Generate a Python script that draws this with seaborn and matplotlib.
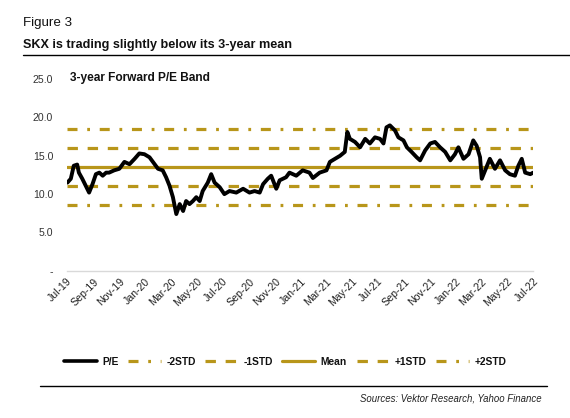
import matplotlib
matplotlib.use("Agg")
import matplotlib.pyplot as plt
import matplotlib.dates as mdates
from matplotlib.lines import Line2D
import pandas as pd
import seaborn as sns

dates = ["2019-07-02", "2019-07-10", "2019-07-17", "2019-07-25", "2019-07-29", "2019-08-06",
         "2019-08-14", "2019-08-22", "2019-08-30", "2019-09-07", "2019-09-15", "2019-09-23",
         "2019-10-01", "2019-10-08", "2019-10-20", "2019-11-01", "2019-11-13", "2019-11-25",
         "2019-12-07", "2019-12-18", "2019-12-30", "2020-01-11", "2020-01-23", "2020-01-31",
         "2020-02-11", "2020-02-19", "2020-02-27", "2020-03-06", "2020-03-14", "2020-03-22",
         "2020-03-30", "2020-04-06", "2020-04-14", "2020-04-22", "2020-04-30", "2020-05-08",
         "2020-05-15", "2020-05-27", "2020-06-04", "2020-06-12", "2020-06-24", "2020-07-05",
         "2020-07-17", "2020-08-02", "2020-08-18", "2020-09-02", "2020-09-14", "2020-09-26",
         "2020-10-04", "2020-10-15", "2020-10-23", "2020-11-04", "2020-11-12", "2020-11-27",
         "2020-12-05", "2020-12-21", "2021-01-05", "2021-01-21", "2021-01-29", "2021-02-14",
         "2021-03-02", "2021-03-10", "2021-03-22", "2021-04-03", "2021-04-14", "2021-04-20",
         "2021-04-26", "2021-05-08", "2021-05-20", "2021-06-01", "2021-06-12", "2021-06-24",
         "2021-07-06", "2021-07-14", "2021-07-21", "2021-07-29", "2021-08-10", "2021-08-18",
         "2021-08-30", "2021-09-07", "2021-09-18", "2021-09-30", "2021-10-08", "2021-10-20",
         "2021-11-01", "2021-11-12", "2021-11-24", "2021-12-06", "2021-12-18", "2021-12-29",
         "2022-01-06", "2022-01-18", "2022-01-30", "2022-02-10", "2022-02-18", "2022-02-26",
         "2022-03-02", "2022-03-10", "2022-03-21", "2022-04-02", "2022-04-14", "2022-04-26",
         "2022-05-07", "2022-05-19", "2022-05-27", "2022-06-04", "2022-06-12", "2022-06-24",
         "2022-07-01"]
pe = [11.5, 12.0, 13.7, 13.85, 12.8, 12.0,
      11.1, 10.2, 11.3, 12.6, 12.8, 12.4,
      12.8, 12.8, 13.1, 13.3, 14.2, 13.9,
      14.6, 15.3, 15.2, 14.8, 13.9, 13.3,
      13.1, 12.2, 11.1, 9.6, 7.4, 8.7,
      7.8, 9.1, 8.7, 9.1, 9.6, 9.1,
      10.4, 11.5, 12.6, 11.5, 10.9, 10.0,
      10.4, 10.2, 10.7, 10.2, 10.4, 10.2,
      11.3, 12.0, 12.4, 10.7, 11.8, 12.2,
      12.8, 12.4, 13.1, 12.8, 12.1, 12.8,
      13.1, 14.2, 14.6, 15.0, 15.5, 18.1,
      17.2, 16.8, 16.1, 17.2, 16.6, 17.4,
      17.2, 16.6, 18.7, 18.96, 18.3, 17.4,
      17.0, 16.1, 15.5, 14.8, 14.4, 15.7,
      16.6, 16.8, 16.1, 15.5, 14.4, 15.2,
      16.1, 14.6, 15.2, 17.0, 16.3, 14.8,
      12.0, 13.1, 14.6, 13.3, 14.4, 13.1,
      12.6, 12.4, 13.7, 14.6, 12.8, 12.6,
      12.8]

band_names = ["-2STD", "-1STD", "Mean", "+1STD", "+2STD"]
band_values = [8.54, 11.0, 13.5, 15.95, 18.46]

yticks = [0, 5, 10, 15, 20, 25]
ytick_labels = ["-", "5.0", "10.0", "15.0", "20.0", "25.0"]

GOLD = "#B8961A"
sns.set_theme(style="white")
plt.rcParams["font.family"] = ["Liberation Sans", "DejaVu Sans"]
plt.rcParams["lines.scale_dashes"] = False

df = pd.DataFrame({"date": pd.to_datetime(dates), "pe": pe})

fig = plt.figure(figsize=(5.70, 4.18), dpi=100)
ax = fig.add_axes([0.1175, 0.352, 0.818, 0.459])

dash_styles = {"-2STD": (0, (7.2, 7.0, 2.0, 7.0)),
               "-1STD": (0, (7.5, 7.0)),
               "Mean": "-",
               "+1STD": (0, (7.5, 7.0)),
               "+2STD": (0, (7.2, 7.0, 2.0, 7.0))}
handles = []
for name, val in zip(band_names, band_values):
    ax.axhline(val, color=GOLD, lw=2.3, ls=dash_styles[name], zorder=2)
    handles.append(Line2D([], [], color=GOLD, lw=2.3, ls=dash_styles[name], label=name))

sns.lineplot(data=df, x="date", y="pe", ax=ax, color="black", lw=2.8, zorder=3)
handles.insert(0, Line2D([], [], color="black", lw=2.6, label="P/E"))

ax.set_xlim(pd.Timestamp("2019-07-01"), pd.Timestamp("2022-07-01"))
ax.set_ylim(0, 25)
ax.set_yticks(yticks)
ax.set_yticklabels(ytick_labels)
ax.xaxis.set_major_locator(mdates.MonthLocator(bymonth=[1, 3, 5, 7, 9, 11]))
ax.xaxis.set_major_formatter(mdates.DateFormatter("%b-%y"))
ax.set_xlabel("")
ax.set_ylabel("")
for s in ["top", "right", "left"]:
    ax.spines[s].set_visible(False)
ax.spines["bottom"].set_color("#d9d9d9")
ax.spines["bottom"].set_linewidth(1.0)
ax.tick_params(axis="x", direction="in", length=4, color="#d9d9d9", width=1.0,
               labelsize=7.6, labelcolor="#222222", pad=4)
ax.tick_params(axis="y", length=0, labelsize=7.6, labelcolor="#333333", pad=10)
for lbl in ax.get_xticklabels():
    lbl.set_rotation(45)
    lbl.set_ha("right")
    lbl.set_rotation_mode("anchor")
ax.grid(False)

fig.text(0.04, 0.945, "Figure 3", fontsize=9.6, color="#111111", va="center")
fig.text(0.04, 0.892, "SKX is trading slightly below its 3-year mean", fontsize=9.1,
         fontweight="bold", color="#111111", va="center")
fig.add_artist(Line2D([0.04, 1.0], [0.869, 0.869], color="black", lw=1.0))
fig.text(0.123, 0.813, "3-year Forward P/E Band", fontsize=8.6, fontweight="bold",
         color="#111111", va="center")

leg = fig.legend(handles=handles, loc="center left", bbox_to_anchor=(0.105, 0.134),
                 ncol=6, frameon=False, fontsize=7.4, handlelength=3.2,
                 handletextpad=0.5, columnspacing=0.95, borderaxespad=0)
for t in leg.get_texts():
    t.set_fontweight("bold")
    t.set_color("#111111")

fig.add_artist(Line2D([0.07, 0.96], [0.077, 0.077], color="black", lw=1.0))
fig.text(0.95, 0.047, "Sources: Vektor Research, Yahoo Finance", fontsize=6.9,
         style="italic", ha="right", va="center", color="#222222")

fig.savefig("out.png", dpi=100)
